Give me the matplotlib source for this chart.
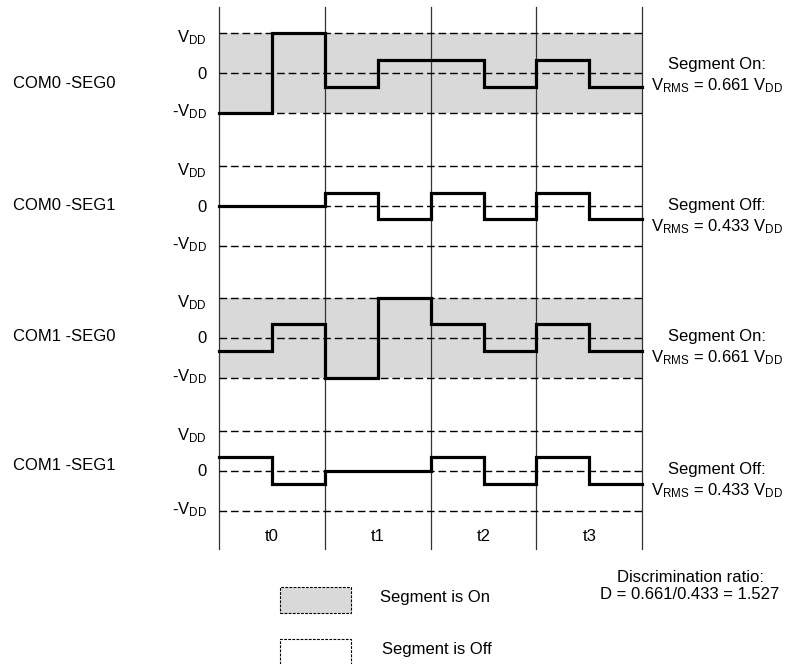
import numpy as np
import matplotlib
matplotlib.use("Agg")
import matplotlib.pyplot as plt
from matplotlib.patches import Rectangle

plt.rcParams['font.family'] = ['Liberation Sans', 'DejaVu Sans']
plt.rcParams['mathtext.fontset'] = 'custom'
plt.rcParams['mathtext.rm'] = 'Liberation Sans'
plt.rcParams['mathtext.it'] = 'Liberation Sans:italic'
plt.rcParams['mathtext.bf'] = 'Liberation Sans:bold'

# --- data (levels in units of VDD, one value per half time slot) ---
panel_names = ['COM0 -SEG0', 'COM0 -SEG1', 'COM1 -SEG0', 'COM1 -SEG1']
segment_on = [True, False, True, False]
vrms = [0.661, 0.433, 0.661, 0.433]
t = 1 / 3
waveforms = [
    [-1, 1, -t, t, t, -t, t, -t],
    [0, 0, t, -t, t, -t, t, -t],
    [-t, t, -1, 1, t, -t, t, -t],
    [t, -t, 0, 0, t, -t, t, -t],
]
slot_labels = ['t0', 't1', 't2', 't3']
level_values = [1, 0, -1]
level_labels = ['V$_\\mathrm{DD}$', '0', '-V$_\\mathrm{DD}$']

# --- layout (figure is in pixel-ish units: 1 time slot, 1 VDD) ---
W, H = 787, 664
SLOT = 105.8          # px per time slot
VDD = 40.0            # px per VDD
X0 = 219.0            # px of t=0
centers_px = [73.3, 206.0, 337.7, 470.7]
centers = [-c / VDD for c in centers_px]

fig = plt.figure(figsize=(W / 100, H / 100), dpi=100)
ax = fig.add_axes([0, 0, 1, 1])
ax.set_xlim(-X0 / SLOT, (W - X0) / SLOT)
ax.set_ylim(-H / VDD, 0)
ax.axis('off')

n_slots = len(slot_labels)
edges = np.arange(0, n_slots + 0.01, 0.5)


def fx(px):
    return (px - X0) / SLOT


def fy(py):
    return -py / VDD


# vertical slot boundaries
for k in range(n_slots + 1):
    ax.plot([k, k], [fy(7), fy(549)], color='#333333', lw=0.9, zorder=2)

label_y_shift = [9.4, 5.7, 3.4]   # px, baseline below level line
name_y = [83, 206, 337, 466]
txt_dy = [-8, 0.7, 0, 0]

for i, wf in enumerate(waveforms):
    c = centers[i]
    if segment_on[i]:
        ax.add_patch(Rectangle((0, c - 1), n_slots, 2, facecolor='#d9d9d9',
                               edgecolor='none', zorder=1))
    for lv, lab, sh in zip(level_values, level_labels, label_y_shift):
        ax.plot([0, n_slots], [c + lv, c + lv], color='black', lw=1.0,
                linestyle=(0, (5.5, 2.8)), zorder=3)
        ax.text(fx(207), c + lv - sh / VDD, lab, ha='right', va='baseline',
                fontsize=12)
    y = [c + v for v in wf] + [c + wf[-1]]
    ax.step(edges, y, where='post', color='black', lw=2.3,
            solid_joinstyle='miter', zorder=4)
    ax.text(fx(13), fy(name_y[i]), panel_names[i], ha='left', va='center',
            fontsize=12)
    state = 'On' if segment_on[i] else 'Off'
    ty = centers_px[i] + txt_dy[i]
    ax.text(fx(717), fy(ty - 1), f'Segment {state}:', ha='center',
            va='center', fontsize=12)
    ax.text(fx(717), fy(ty + 20), 'V$_\\mathrm{RMS}$ = %.3f V$_\\mathrm{DD}$' % vrms[i],
            ha='center', va='center', fontsize=12)

for k, lab in enumerate(slot_labels):
    ax.text(k + 0.5, fy(537), lab, ha='center', va='center', fontsize=12)

# legend boxes
ax.add_patch(Rectangle((fx(280), fy(612.7)), (351 - 280) / SLOT, 26 / VDD,
                       facecolor='#d9d9d9', edgecolor='black', lw=0.8,
                       linestyle=(0, (2.5, 1.2)), zorder=2))
ax.add_patch(Rectangle((fx(280), fy(672)), (351 - 280) / SLOT, 33 / VDD,
                       facecolor='white', edgecolor='black', lw=0.8,
                       linestyle=(0, (2.5, 1.2)), zorder=2))
ax.text(fx(380), fy(598), 'Segment is On', ha='left', va='center', fontsize=12)
ax.text(fx(382), fy(650), 'Segment is Off', ha='left', va='center', fontsize=12)

ratio = vrms[0] / vrms[1]
ax.text(fx(690), fy(578), 'Discrimination ratio:', ha='center', va='center',
        fontsize=12)
ax.text(fx(690), fy(595), 'D = %.3f/%.3f = %.3f' % (vrms[0], vrms[1], ratio),
        ha='center', va='center', fontsize=12)

fig.savefig('out.png', dpi=100)
